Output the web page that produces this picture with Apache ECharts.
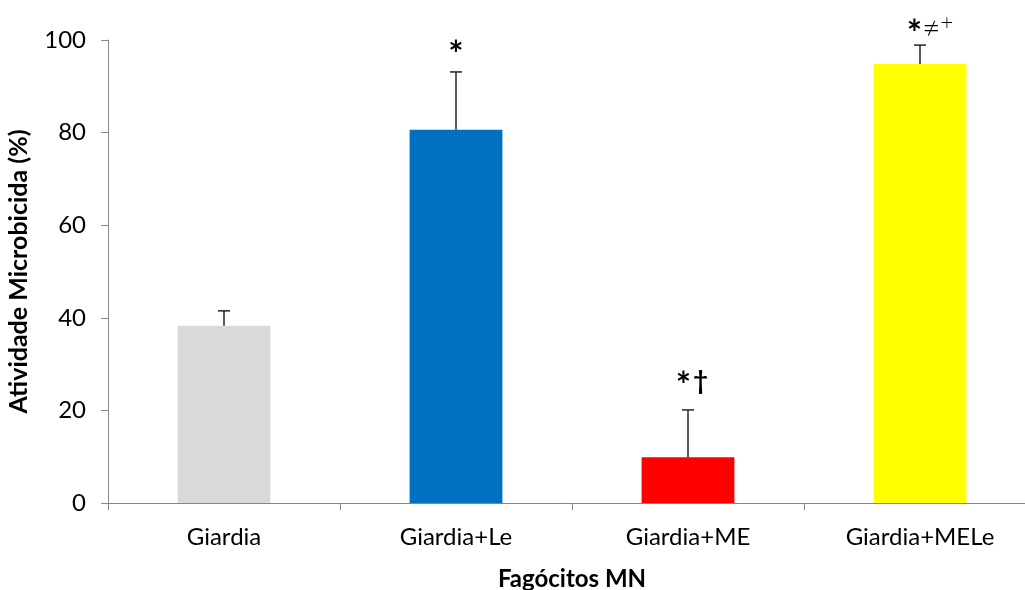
<!DOCTYPE html>
<html>
<head>
<meta charset="utf-8">
<script src="https://cdn.jsdelivr.net/npm/echarts@6/dist/echarts.min.js"></script>
<style>
  html, body { margin: 0; padding: 0; background: #fff; }
  #chart { width: 1025px; height: 590px; }
</style>
</head>
<body>
<div id="chart"></div>
<script>
// Microbicidal activity of MN phagocytes per treatment group
const categories = ['Giardia', 'Giardia+Le', 'Giardia+ME', 'Giardia+MELe'];
const means = [38.3, 80.6, 9.9, 94.8];
const upperErrors = [3.2, 12.5, 10.2, 4.1];
// significance marks: asterisk, then the remaining symbols
const markStar = ['', '*', '*', '*'];
const markRest = ['', '', '†', '≠+'];
const barColors = ['#d9d9d9', '#0070c0', '#ff0000', '#ffff00'];
const yTicks = [0, 20, 40, 60, 80, 100];

const FONT = 'Lato, "Open Sans", sans-serif';
// vertical gap (px) between error cap and significance mark
const markGap = [0, 17, 24, 11];

const chart = echarts.init(document.getElementById('chart'));

const errorData = categories.map((c, i) => [i, means[i], means[i] + upperErrors[i]]);

function markText(i) {
  if (!markStar[i]) return '';
  let t = '{s|' + markStar[i] + '}';
  const rest = markRest[i];
  if (rest === '†') {
    t += '{d|' + rest + '}';
  } else if (rest) {
    t += '{n|' + rest.charAt(0) + '}{p|' + rest.slice(1) + '}';
  }
  return t;
}

chart.setOption({
  animation: false,
  grid: { left: 108, top: 40, width: 928, bottom: 87, containLabel: false, outerBoundsMode: 'none' },
  xAxis: {
    type: 'category',
    data: categories,
    axisLine: { lineStyle: { color: '#868686', width: 1 } },
    axisTick: { show: true, length: 7, alignWithLabel: false, lineStyle: { color: '#868686' } },
    axisLabel: { color: '#000', fontFamily: FONT, fontSize: 24, margin: 22 },
    name: 'Fagócitos MN',
    nameLocation: 'middle',
    nameGap: 64,
    nameTextStyle: { color: '#000', fontFamily: FONT, fontSize: 24, fontWeight: 'bold' }
  },
  yAxis: {
    type: 'value',
    min: yTicks[0],
    max: yTicks[yTicks.length - 1],
    interval: 20,
    splitLine: { show: false },
    axisLine: { show: true, lineStyle: { color: '#868686', width: 1 } },
    axisTick: { show: true, length: 7, lineStyle: { color: '#868686' } },
    axisLabel: { color: '#000', fontFamily: FONT, fontSize: 24, margin: 22 },
    name: 'Atividade Microbicida (%)',
    nameLocation: 'middle',
    nameGap: 77,
    nameTextStyle: { color: '#000', fontFamily: FONT, fontSize: 25, fontWeight: 'bold' }
  },
  series: [
    {
      type: 'bar',
      barWidth: '40%',
      data: means.map((v, i) => ({ value: v, itemStyle: { color: barColors[i] } })),
      silent: true
    },
    {
      type: 'custom',
      silent: true,
      data: errorData,
      z: 5,
      renderItem: function (params, api) {
        const i = api.value(0);
        const base = api.coord([i, api.value(1)]);
        const top = api.coord([i, api.value(2)]);
        const cap = 6;
        const children = [
          { type: 'line', shape: { x1: base[0], y1: base[1], x2: top[0], y2: top[1] },
            style: { stroke: '#262626', lineWidth: 1.5 } },
          { type: 'line', shape: { x1: top[0] - cap, y1: top[1], x2: top[0] + cap, y2: top[1] },
            style: { stroke: '#262626', lineWidth: 1.5 } }
        ];
        const text = markText(i);
        if (text) {
          children.push({
            type: 'text',
            x: top[0] + (markRest[i].length > 1 ? 10 : (markRest[i] ? 4 : 0)),
            y: top[1] - markGap[i],
            style: {
              text: text,
              align: 'center',
              verticalAlign: 'middle',
              rich: {
                s: { fontFamily: FONT, fontSize: 36, fontWeight: 'bold', fill: '#000' },
                d: { fontFamily: FONT, fontSize: 26, fontWeight: 'bold', fill: '#000', padding: [0, 0, 8, 2] },
                n: { fontFamily: FONT, fontSize: 32, fontWeight: 300, fill: '#000', padding: [0, 0, 10, 0] },
                p: { fontFamily: FONT, fontSize: 22, fontWeight: 300, fill: '#000', padding: [0, 0, 22, 0] }
              }
            }
          });
        }
        return { type: 'group', children: children };
      }
    }
  ]
});
</script>
</body>
</html>
